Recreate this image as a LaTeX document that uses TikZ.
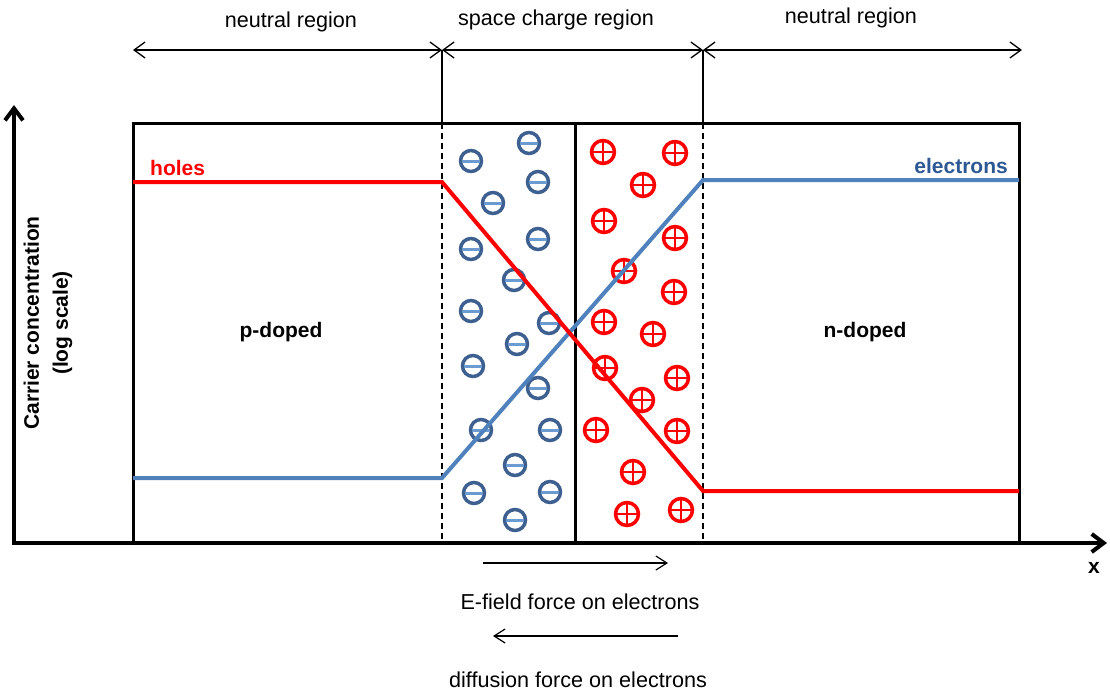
\documentclass[tikz,border=0pt]{standalone}
\usepackage{fontspec}
\setmainfont{Liberation Sans}
\usetikzlibrary{arrows.meta}
\definecolor{hred}{HTML}{FF0000}
\definecolor{lineblue}{HTML}{4F81BD}
\definecolor{circblue}{HTML}{3D6091}
\definecolor{barblue}{HTML}{6C9BD2}
\definecolor{eblue}{HTML}{2E5894}
\begin{document}
\begin{tikzpicture}[x=1pt,y=-1pt,
  lbl/.style={font=\fontsize{21.6}{26}\selectfont, inner sep=0pt},
  blbl/.style={font=\fontsize{21}{29}\selectfont\bfseries, inner sep=0pt},
  dimarrow/.style={line width=1.3pt, {Straight Barb[length=11pt,width=16pt]}-{Straight Barb[length=11pt,width=16pt]}},
  forcearrow/.style={line width=1.2pt, -{Straight Barb[length=11pt,width=14pt]}},
  axis/.style={line width=4pt, -{Straight Barb[length=12pt,width=18pt]}},
  boxline/.style={line width=3pt},
  bound/.style={line width=1.5pt},
  boundd/.style={line width=1.6pt, dash pattern=on 6pt off 4pt},
  holeline/.style={hred, line width=4pt},
  elecline/.style={lineblue, line width=4pt},
  minusion/.pic={\draw[circblue, line width=3.5pt] (0,0) circle (10.5pt);
                 \draw[barblue, line width=3pt] (-9,0) -- (9,0);},
  plusion/.pic={\draw[hred, line width=3.5pt] (0,0) circle (11.5pt);
                \draw[hred, line width=2pt] (-10,0) -- (10,0) (0,-10) -- (0,10);}
]
\useasboundingbox (0,0) rectangle (1110,691);

% key coordinates
\coordinate (bl) at (133,543);
\coordinate (tl) at (133,123);
\coordinate (tr) at (1019,123);
\coordinate (br) at (1019,543);
\coordinate (d1t) at (442,123); \coordinate (d1b) at (442,543); \coordinate (d1u) at (442,50);
\coordinate (d2t) at (703,123); \coordinate (d2b) at (703,543); \coordinate (d2u) at (703,50);
\coordinate (mt) at (575,123); \coordinate (mb) at (575,543);
\coordinate (la) at (133,50); \coordinate (ra) at (1022,50);
\coordinate (yo) at (14,545); \coordinate (yt) at (14,105);
\coordinate (xo) at (12,543); \coordinate (xt) at (1107,543);

% ions
\foreach \p in {(471,161),(529,143),(538,182),(493,203),(538,239),(471,249),(514,280),(471,311),
                (549,323),(517,344),(473,366),(538,388),(481,430),(550,430),(515,465),(474,493),
                (550,492),(515,520)}
  \pic at \p {minusion};
\foreach \p in {(603,152),(675,153),(643,185),(604,221),(675,238),(624,271),(674,292),(604,322),
                (653,334),(605,368),(677,378),(642,400),(596,430),(677,431),(633,472),(627,514),
                (681,510)}
  \pic at \p {plusion};

% box
\draw[boxline] (bl) -- (tl) -- (tr) -- (br);
\draw[boxline] (mt) -- (mb);
% region boundaries
\draw[bound] (d1u) -- (d1t);
\draw[bound] (d2u) -- (d2t);
\draw[boundd] (d1t) -- (d1b);
\draw[boundd] (d2t) -- (d2b);

% dimension arrows
\draw[dimarrow] (la) -- (d1u);
\draw[dimarrow] (d1u) -- (d2u);
\draw[dimarrow] (d2u) -- (ra);

% concentration curves
\coordinate (h0) at (133,182); \coordinate (h1) at (442,182);
\coordinate (h2) at (703,491); \coordinate (h3) at (1019,491);
\coordinate (e0) at (133,478); \coordinate (e1) at (442,478);
\coordinate (e2) at (703,180); \coordinate (e3) at (1019,180);
\draw[elecline] (e0) -- (e1) -- (e2) -- (e3);
\draw[holeline] (h0) -- (h1) -- (h2) -- (h3);

% axes
\draw[axis] (yo) -- (yt);
\draw[axis] (xo) -- (xt);

% labels
\node[lbl] (nl) at (291,22) {neutral region};
\node[lbl] (sc) at (556,20) {space charge region};
\node[lbl] (nr) at (851,18) {neutral region};
\node[blbl, text=hred, anchor=west] (holes) at (150,168) {holes};
\node[blbl, text=eblue, anchor=east] (elec) at (1008,166) {electrons};
\node[blbl] (pd) at (281,332) {p-doped};
\node[blbl] (nd) at (865,332) {n-doped};
\node[blbl, rotate=90, align=center] (yl) at (48,323) {Carrier concentration\\(log scale)};
\node[blbl] (xl) at (1094,568) {x};

% force arrows
\coordinate (f1a) at (483,563); \coordinate (f1b) at (668,563);
\coordinate (f2a) at (678,636); \coordinate (f2b) at (493,636);
\draw[forcearrow] (f1a) -- (f1b);
\draw[forcearrow] (f2a) -- (f2b);
\node[lbl] (ef) at (580,602) {E-field force on electrons};
\node[lbl] (df) at (578,680) {diffusion force on electrons};
\end{tikzpicture}
\end{document}
